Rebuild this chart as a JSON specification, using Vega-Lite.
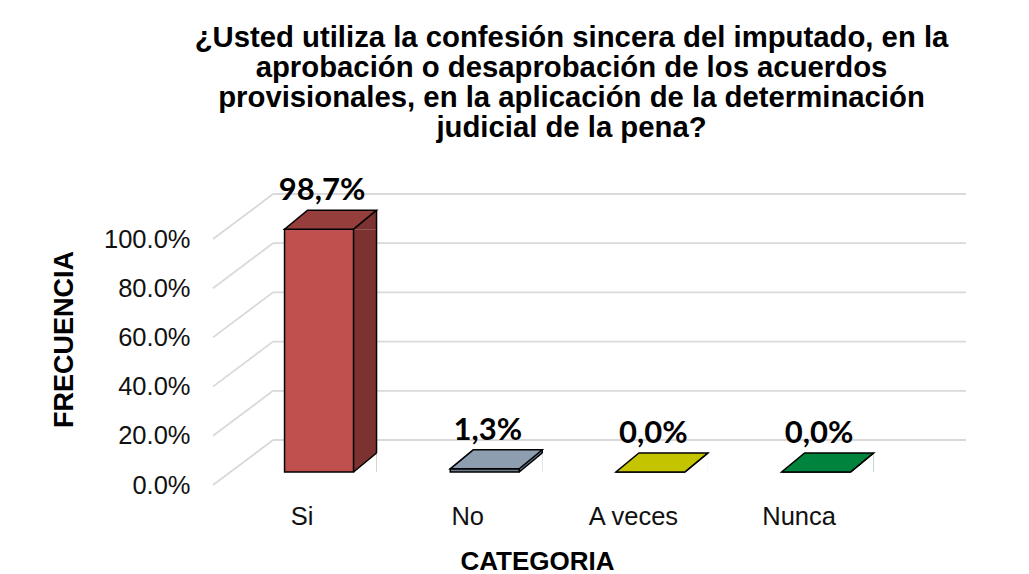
{
  "$schema": "https://vega.github.io/schema/vega-lite/v6.json",
  "width": 693,
  "height": 246,
  "autosize": "none",
  "padding": {"left": 232, "top": 226, "right": 104, "bottom": 102},
  "background": "#ffffff",
  "datasets": {
    "bars": [
      {"cat": "Si", "v": 0.987, "label": "98,7%"},
      {"cat": "No", "v": 0.013, "label": "1,3%"},
      {"cat": "A veces", "v": 0.0, "label": "0,0%"},
      {"cat": "Nunca", "v": 0.0, "label": "0,0%"}
    ],
    "ticks": [{"t": 0}, {"t": 0.2}, {"t": 0.4}, {"t": 0.6}, {"t": 0.8}, {"t": 1}]
  },
  "data": {"name": "bars"},
  "title": {
    "text": [
      "¿Usted utiliza la confesión sincera del imputado, en la",
      "aprobación o desaprobación de los acuerdos",
      "provisionales, en la aplicación de la determinación",
      "judicial de la pena?"
    ],
    "font": "Liberation Sans",
    "fontSize": 29.3,
    "fontWeight": "bold",
    "lineHeight": 30,
    "color": "#000000",
    "anchor": "middle",
    "frame": "group",
    "baseline": "top",
    "offset": 32,
    "dx": -7
  },
  "layer": [
    {
      "data": {"name": "ticks"},
      "mark": {"type": "rule", "color": "#d9d9d9", "strokeWidth": 1.8, "xOffset": 41, "x2Offset": 41, "yOffset": -32},
      "encoding": {
        "x": {"value": 0},
        "x2": {"value": {"expr": "width"}},
        "y": {"field": "t", "type": "quantitative"}
      }
    },
    {
      "data": {"name": "ticks"},
      "mark": {"type": "rule", "color": "#d9d9d9", "strokeWidth": 1.8, "xOffset": -19, "x2Offset": 41, "yOffset": 13, "y2Offset": -32},
      "encoding": {
        "x": {"value": 0},
        "x2": {"value": 0},
        "y": {"field": "t", "type": "quantitative"},
        "y2": {"field": "t"}
      }
    },
    {
      "mark": {"type": "bar", "width": 23, "xOffset": 46},
      "encoding": {
        "x": {"field": "cat", "type": "nominal",
              "scale": {"domain": ["Si", "No", "A veces", "Nunca"], "paddingInner": 0.5836, "paddingOuter": 0.383, "align": 0.414}},
        "y": {"field": "v", "type": "quantitative"},
        "color": {"field": "cat", "type": "nominal", "legend": null,
                  "scale": {"domain": ["Si", "No", "A veces", "Nunca"], "range": ["#7b3230", "#5f6f82", "#8a8a00", "#005c2a"]}}
      }
    },
    {
      "mark": {"type": "point", "shape": "M34.5,0L57.5,-19L57.5,0Z", "size": 4, "filled": true, "opacity": 1, "strokeWidth": 0},
      "encoding": {
        "x": {"field": "cat", "type": "nominal"},
        "y": {"field": "v", "type": "quantitative"},
        "color": {"field": "cat", "type": "nominal", "legend": null,
                  "scale": {"domain": ["Si", "No", "A veces", "Nunca"], "range": ["#7b3230", "#5f6f82", "#8a8a00", "#005c2a"]}}
      }
    },
    {
      "mark": {"type": "point", "shape": "M34.5,0L57.5,-19L57.5,0Z", "size": 4, "filled": true, "opacity": 1, "strokeWidth": 0, "color": "#ffffff"},
      "encoding": {
        "x": {"field": "cat", "type": "nominal"},
        "y": {"datum": 0, "type": "quantitative"}
      }
    },
    {
      "mark": {"type": "bar", "stroke": "#000000", "strokeWidth": 1.5},
      "encoding": {
        "x": {"field": "cat", "type": "nominal",
              "axis": {"title": "CATEGORIA", "labelAngle": 0, "labelAlign": "center", "ticks": false, "domain": false,
                       "labelFont": "Liberation Sans", "labelFontSize": 25.5, "labelColor": "#111111",
                       "labelPadding": 44, "labelOffset": -17,
                       "titleFont": "Liberation Sans", "titleFontSize": 26, "titleFontWeight": "bold", "titleColor": "#000000",
                       "titleX": 305, "titleY": 89, "titleBaseline": "middle", "titleAlign": "center"}},
        "y": {"field": "v", "type": "quantitative",
              "scale": {"domain": [0, 1], "nice": false},
              "axis": {"format": ".1%", "values": [0, 0.2, 0.4, 0.6, 0.8, 1], "grid": false, "ticks": false, "domain": false,
                       "labelFont": "Liberation Sans", "labelFontSize": 25.5, "labelColor": "#111111",
                       "labelPadding": 42, "labelOffset": 13,
                       "title": "FRECUENCIA", "titleFont": "Liberation Sans", "titleFontSize": 27, "titleFontWeight": "bold", "titleColor": "#000000",
                       "titleX": -167.5, "titleY": 113, "titleAngle": 270, "titleAlign": "center", "titleBaseline": "middle"}},
        "color": {"field": "cat", "type": "nominal", "legend": null,
                  "scale": {"domain": ["Si", "No", "A veces", "Nunca"], "range": ["#c0504d", "#6d7d90", "#a8a800", "#006e32"]}}
      }
    },
    {
      "mark": {"type": "point", "shape": "M-34.5,0L34.5,0L57.5,-19L-11.5,-19Z", "size": 4, "filled": true, "opacity": 1, "stroke": "#000000", "strokeWidth": 1.5},
      "encoding": {
        "x": {"field": "cat", "type": "nominal"},
        "y": {"field": "v", "type": "quantitative"},
        "color": {"field": "cat", "type": "nominal", "legend": null,
                  "scale": {"domain": ["Si", "No", "A veces", "Nunca"], "range": ["#953e3b", "#8e9eb1", "#c4c400", "#00843d"]}}
      }
    },
    {
      "mark": {"type": "rule", "color": "#000000", "strokeWidth": 1.5, "xOffset": 57.5, "yOffset": -19, "y2Offset": -19},
      "encoding": {
        "x": {"field": "cat", "type": "nominal"},
        "y": {"field": "v", "type": "quantitative"},
        "y2": {"datum": 0}
      }
    },
    {
      "mark": {"type": "point", "shape": "M34.5,0L57.5,-19", "size": 4, "filled": false, "opacity": 1, "color": "#000000", "strokeWidth": 1.5},
      "encoding": {
        "x": {"field": "cat", "type": "nominal"},
        "y": {"datum": 0, "type": "quantitative"}
      }
    },
    {
      "mark": {"type": "text", "font": "Lato", "fontSize": 31, "fontWeight": "bold", "color": "#000000", "baseline": "alphabetic", "align": "center", "dx": 3, "dy": -29},
      "encoding": {
        "x": {"field": "cat", "type": "nominal"},
        "y": {"field": "v", "type": "quantitative"},
        "text": {"field": "label"}
      }
    }
  ],
  "resolve": {"scale": {"color": "independent"}},
  "config": {"view": {"stroke": null}}
}
